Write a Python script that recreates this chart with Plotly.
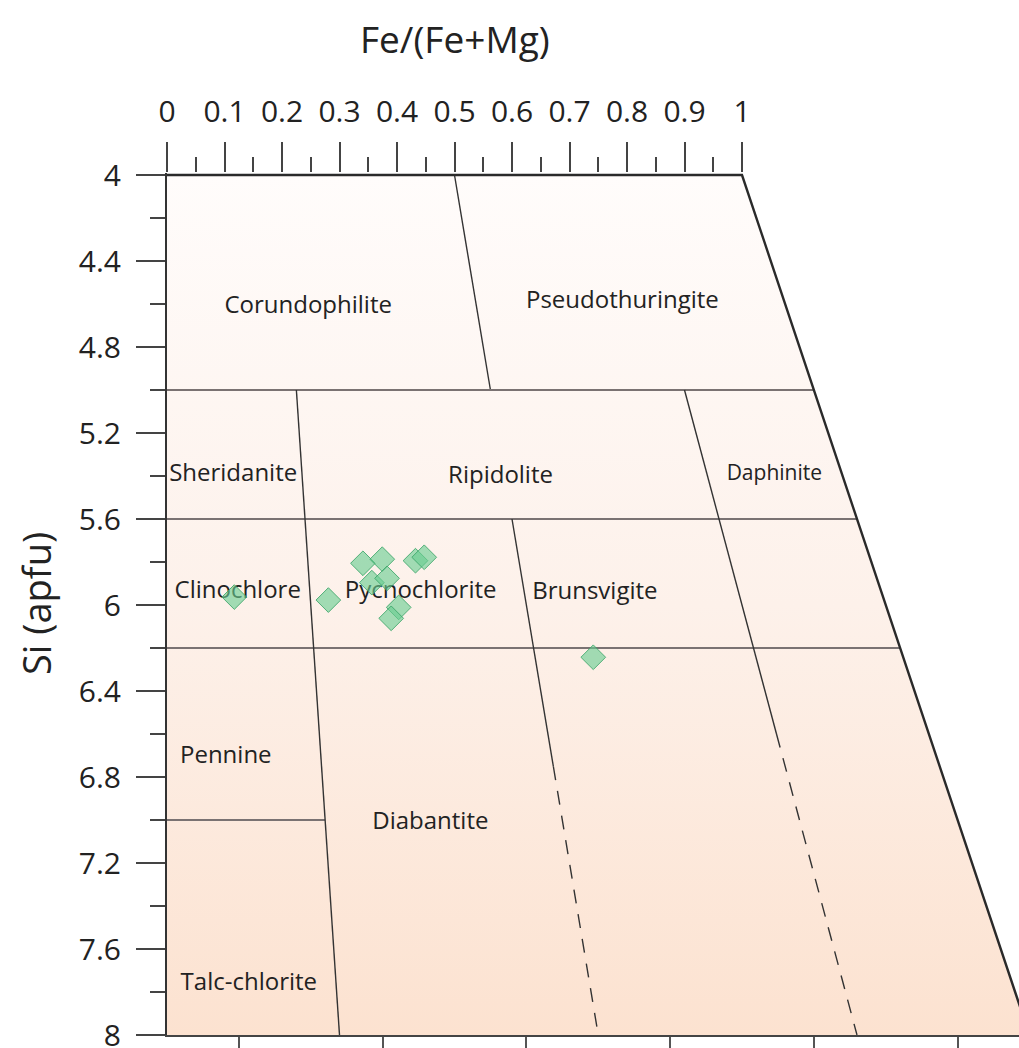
import plotly.graph_objects as go

# ---------------- data ----------------
# sample analyses: Fe/(Fe+Mg) and Si (apfu)
fe_ratio = [0.094, 0.225, 0.278, 0.306, 0.288, 0.310, 0.353, 0.366, 0.322, 0.310, 0.579]
si_apfu = [5.963, 5.977, 5.806, 5.787, 5.896, 5.876, 5.794, 5.778, 6.011, 6.062, 6.243]

# field names and their label anchor (Fe/(Fe+Mg), Si)
field_names = ["Corundophilite", "Pseudothuringite", "Sheridanite", "Ripidolite", "Daphinite",
               "Clinochlore", "Pycnochlorite", "Brunsvigite", "Pennine", "Diabantite", "Talc-chlorite"]
field_fe = [0.228, 0.7375, 0.098, 0.4934, 0.8994, 0.099, 0.355, 0.5986, 0.0764, 0.3327, 0.0968]
field_si = [4.614, 4.591, 5.395, 5.405, 5.395, 5.938, 5.94, 5.944, 6.707, 7.014, 7.763]

# classification boundaries: (fe_start, si_start, fe_end, si_end, style)
boundaries = [
    (0.5, 4.0, 0.5, 5.0, "solid"),
    (0.0, 5.0, 1.0, 5.0, "h"),
    (0.0, 5.6, 1.0, 5.6, "h"),
    (0.0, 6.2, 1.0, 6.2, "h"),
    (0.0, 7.0, 0.2, 7.0, "h"),
    (0.2, 5.0, 0.2, 8.0, "solid"),
    (0.5, 5.6, 0.5, 6.75, "solid"),
    (0.5, 6.75, 0.5, 8.0, "dash"),
    (0.8, 5.0, 0.8, 6.6, "solid"),
    (0.8, 6.6, 0.8, 8.0, "dash"),
]

top_tick_vals = [0, 0.1, 0.2, 0.3, 0.4, 0.5, 0.6, 0.7, 0.8, 0.9, 1.0]
top_tick_text = ["0", "0.1", "0.2", "0.3", "0.4", "0.5", "0.6", "0.7", "0.8", "0.9", "1"]
top_minor_vals = [0.05, 0.15, 0.25, 0.35, 0.45, 0.55, 0.65, 0.75, 0.85, 0.95]
si_tick_vals = [4.0, 4.4, 4.8, 5.2, 5.6, 6.0, 6.4, 6.8, 7.2, 7.6, 8.0]
si_tick_text = ["4", "4.4", "4.8", "5.2", "5.6", "6", "6.4", "6.8", "7.2", "7.6", "8"]
si_minor_vals = [4.2, 4.6, 5.0, 5.4, 5.8, 6.2, 6.6, 7.0, 7.4, 7.8]
bottom_tick_vals = [0.125, 0.375, 0.625, 0.875, 1.125, 1.375]


# diagram coordinate: the field widens with Si (trapezoid)
def fx(fe, si):
    return fe * (si + 4.0) / 8.0


PX_PER_UNIT = 575.0
PLOT_W = 852
X_RANGE = [0, PLOT_W / PX_PER_UNIT]
Y_RANGE = [8.0, 4.0 - 2.0 / 215.0]

fig = go.Figure()

# background field with vertical gradient
fig.add_trace(go.Scatter(
    x=[fx(0, 4), fx(1, 4), fx(1, 8), fx(0, 8), fx(0, 4)],
    y=[4, 4, 8, 8, 4],
    mode="lines", line=dict(width=0), fill="toself",
    fillgradient=dict(type="vertical", start=4, stop=8,
                      colorscale=[[0, "#fffcfb"], [0.5, "#fdf1ea"], [1, "#fce2d0"]]),
    hoverinfo="skip", showlegend=False))

# boundaries
for f0, s0, f1, s1, style in boundaries:
    if style == "h":
        line = dict(color="#7a7272", width=2)
    elif style == "dash":
        line = dict(color="#333333", width=1.4, dash="14px,11px")
    else:
        line = dict(color="#333333", width=1.4)
    fig.add_trace(go.Scatter(x=[fx(f0, s0), fx(f1, s1)], y=[s0, s1], mode="lines",
                             line=line, hoverinfo="skip", showlegend=False))

# outer frame: top and right edge
fig.add_trace(go.Scatter(x=[fx(0, 4), fx(1, 4), fx(1, 8)], y=[4, 4, 8], mode="lines",
                         line=dict(color="#2a2a2a", width=2.4), hoverinfo="skip", showlegend=False))

# field labels
fig.add_trace(go.Scatter(
    x=[fx(f, s) for f, s in zip(field_fe, field_si)], y=field_si,
    mode="text", text=field_names, textposition="middle center",
    textfont=dict(family="Open Sans", size=[24, 24, 24, 24, 21, 24, 24, 24, 24, 24, 24], color="#222222"),
    hoverinfo="skip", showlegend=False))

# samples
fig.add_trace(go.Scatter(
    x=[fx(f, s) for f, s in zip(fe_ratio, si_apfu)], y=si_apfu,
    mode="markers",
    marker=dict(symbol="diamond", size=19, color="rgba(105,205,145,0.62)",
                line=dict(color="rgba(60,165,105,0.85)", width=1)),
    showlegend=False))

# dummy trace for the top axis
fig.add_trace(go.Scatter(x=[0, 1], y=[4, 4], xaxis="x2", mode="markers",
                         marker=dict(opacity=0), hoverinfo="skip", showlegend=False))

tick_font = dict(family="Open Sans", size=30, color="#222222")

fig.update_layout(
    width=1019, height=1048,
    margin=dict(l=167, r=0, t=173, b=13, autoexpand=False),
    paper_bgcolor="white", plot_bgcolor="white",
    xaxis=dict(range=X_RANGE, showgrid=False, zeroline=False, automargin=False,
               showline=True, linecolor="#444444", linewidth=2,
               ticks="outside", tickvals=bottom_tick_vals, ticklen=16, tickwidth=1.5,
               tickcolor="#555555", showticklabels=False),
    xaxis2=dict(range=X_RANGE, overlaying="x", side="top", showgrid=False, zeroline=False,
                automargin=False,
                showline=False, ticks="outside", tickvals=top_tick_vals, ticktext=top_tick_text,
                ticklen=30, tickwidth=1.5, tickcolor="#444444", tickfont=tick_font,
                ticklabelstandoff=8,
                minor=dict(tickvals=top_minor_vals, ticks="outside", ticklen=15,
                           tickwidth=1.5, tickcolor="#444444")),
    yaxis=dict(range=Y_RANGE, showgrid=False, zeroline=False, automargin=False,
               showline=True, linecolor="#333333", linewidth=2,
               ticks="outside", tickvals=si_tick_vals, ticktext=si_tick_text,
               ticklen=29, tickwidth=1.5, tickcolor="#444444", tickfont=tick_font,
               ticklabelstandoff=9, ticklabeloverflow="allow",
               minor=dict(tickvals=si_minor_vals, ticks="outside", ticklen=15,
                          tickwidth=1.5, tickcolor="#444444")),
    annotations=[
        dict(text="Fe/(Fe+Mg)", xref="x2", yref="paper", x=0.5, y=(1035 - 39) / 862.0,
             showarrow=False, xanchor="center", yanchor="middle",
             font=dict(family="Open Sans", size=37, color="#222222")),
        dict(text="Si (apfu)", xref="paper", yref="paper", x=(36 - 167) / 852.0,
             y=(1035 - 604) / 862.0, showarrow=False, textangle=-90,
             xanchor="center", yanchor="middle",
             font=dict(family="Open Sans", size=38, color="#222222")),
    ],
)

fig.write_html("out.html")
